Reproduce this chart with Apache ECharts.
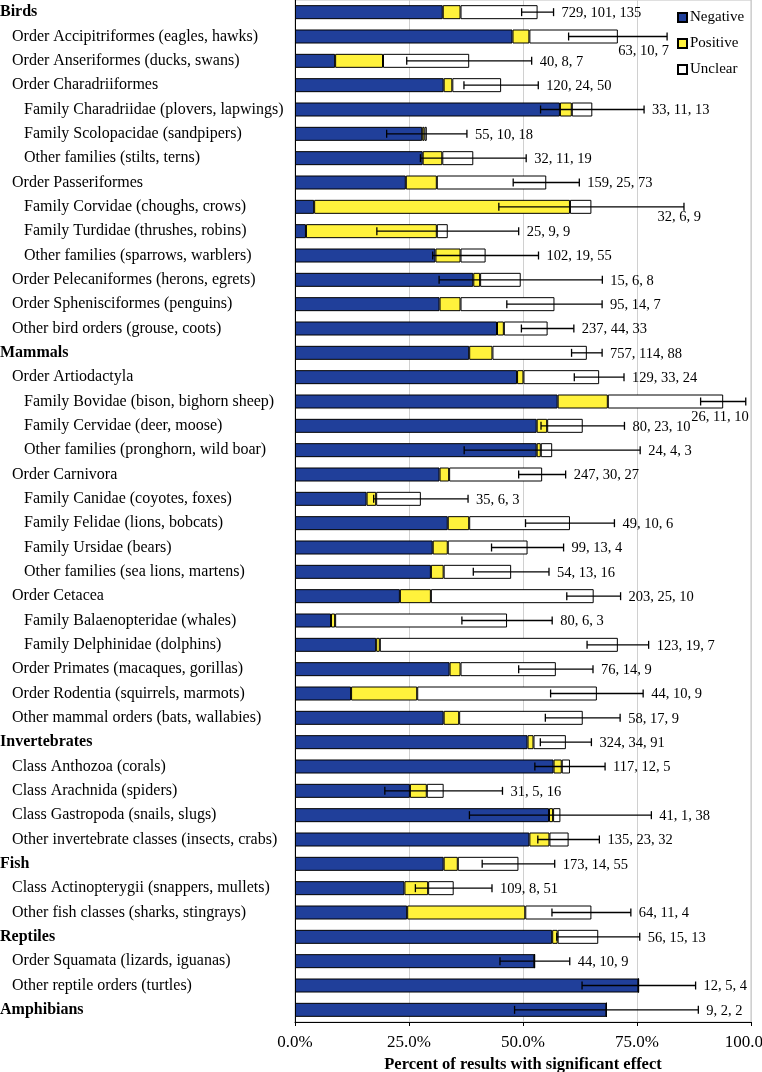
<!DOCTYPE html>
<html>
<head>
<meta charset="utf-8">
<script src="https://cdn.jsdelivr.net/npm/echarts@6/dist/echarts.min.js"></script>
<style>html,body{margin:0;padding:0;background:#fff}#c{width:762px;height:1072px}</style>
</head>
<body>
<div id="c"></div>
<script>
const categories = [
  "Birds","Order Accipitriformes (eagles, hawks)","Order Anseriformes (ducks, swans)","Order Charadriiformes",
  "Family Charadriidae (plovers, lapwings)","Family Scolopacidae (sandpipers)","Other families (stilts, terns)",
  "Order Passeriformes","Family Corvidae (choughs, crows)","Family Turdidae (thrushes, robins)",
  "Other families (sparrows, warblers)","Order Pelecaniformes (herons, egrets)","Order Sphenisciformes (penguins)",
  "Other bird orders (grouse, coots)","Mammals","Order Artiodactyla","Family Bovidae (bison, bighorn sheep)",
  "Family Cervidae (deer, moose)","Other families (pronghorn, wild boar)","Order Carnivora",
  "Family Canidae (coyotes, foxes)","Family Felidae (lions, bobcats)","Family Ursidae (bears)",
  "Other families (sea lions, martens)","Order Cetacea","Family Balaenopteridae (whales)",
  "Family Delphinidae (dolphins)","Order Primates (macaques, gorillas)","Order Rodentia (squirrels, marmots)",
  "Other mammal orders (bats, wallabies)","Invertebrates","Class Anthozoa (corals)","Class Arachnida (spiders)",
  "Class Gastropoda (snails, slugs)","Other invertebrate classes (insects, crabs)","Fish",
  "Class Actinopterygii (snappers, mullets)","Other fish classes (sharks, stingrays)","Reptiles",
  "Order Squamata (lizards, iguanas)","Other reptile orders (turtles)","Amphibians"
];
const levels = [0,1,1,1,2,2,2,1,2,2,2,1,1,1,0,1,2,2,2,1,2,2,2,2,1,2,2,1,1,1,0,1,1,1,1,0,1,1,0,1,1,0];
const negative = [32.4,47.7,8.8,32.6,58.1,27.9,28.0,24.3,4.2,2.4,30.8,39.1,31.7,44.3,38.2,48.7,57.6,53.0,53.0,31.7,15.7,33.5,30.2,29.8,23.0,7.9,17.8,33.9,12.3,32.6,51.0,56.7,25.2,55.7,51.4,32.6,24.0,24.6,56.4,52.5,75.3,68.3];
const positive = [3.9,3.7,10.5,1.9,2.6,0.5,4.3,6.8,56.1,28.7,5.5,1.5,4.6,1.5,5.1,1.4,11.0,2.3,0.9,2.1,2.1,4.7,3.3,2.8,6.8,0.9,0.8,2.4,14.5,3.4,1.3,1.8,3.7,0.9,4.4,3.1,5.2,25.9,1.2,0,0,0];
const unclear = [16.9,19.4,18.9,10.7,4.5,0.5,6.8,24.0,4.7,2.4,5.5,8.9,20.6,9.6,20.7,16.6,25.3,7.8,2.5,20.4,9.8,22.1,17.5,14.8,35.7,37.7,52.2,20.9,39.4,27.1,7.1,1.8,3.7,1.6,4.2,13.3,5.6,14.5,8.9,0.1,0.1,0];
const errorMargin = [3.5,10.8,13.7,8.15,11.35,8.8,11.6,7.25,20.3,15.55,11.6,17.9,10.45,5.75,3.35,5.45,4.95,9.15,19.3,5.15,10.35,9.75,7.9,8.3,5.9,9.9,6.75,8.15,10.15,8.2,5.6,7.7,12.9,19.95,6.75,7.95,8.4,8.65,9.1,7.65,12.45,20.15];
const countLabels = ["729, 101, 135","63, 10, 7","40, 8, 7","120, 24, 50","33, 11, 13","55, 10, 18","32, 11, 19","159, 25, 73","32, 6, 9","25, 9, 9","102, 19, 55","15, 6, 8","95, 14, 7","237, 44, 33","757, 114, 88","129, 33, 24","26, 11, 10","80, 23, 10","24, 4, 3","247, 30, 27","35, 6, 3","49, 10, 6","99, 13, 4","54, 13, 16","203, 25, 10","80, 6, 3","123, 19, 7","76, 14, 9","44, 10, 9","58, 17, 9","324, 34, 91","117, 12, 5","31, 5, 16","41, 1, 38","135, 23, 32","173, 14, 55","109, 8, 51","64, 11, 4","56, 15, 13","44, 10, 9","12, 5, 4","9, 2, 2"];
const xTicks = [0,25,50,75,100];

// label placement tweaks (style, not data): rows whose label sits under the error bar
const labelBelow = {1:[2,15], 8:[17,10], 16:[3,16]};

const FONT = "'Liberation Serif','Times New Roman',serif";
const BLUE = '#203F9A', YELLOW = '#FFF23C';

const errData = categories.map((c,i)=>[negative[i]+positive[i]+unclear[i], i, errorMargin[i]]);

const chart = echarts.init(document.getElementById('c'), null, {renderer:'canvas'});
const barStyle = (color)=>({color:color, borderColor:'#000', borderWidth:1});
chart.setOption({
  animation:false,
  textStyle:{fontFamily:FONT},
  grid:{left:295, right:11, top:0, bottom:50, show:true, borderColor:'#c0c0c0', borderWidth:1,
        containLabel:false, outerBoundsMode:'none'},
  legend:{
    data:['Negative','Positive','Unclear'], orient:'vertical', left:672, top:5,
    itemWidth:9, itemHeight:9, itemGap:11, icon:'rect',
    textStyle:{fontFamily:FONT, fontSize:15, color:'#000', padding:[0,0,0,-2]}
  },
  xAxis:{
    type:'value', min:0, max:100, interval:25,
    axisLine:{show:true, lineStyle:{color:'#000', width:1}},
    axisTick:{show:true, length:4, lineStyle:{color:'#000'}},
    splitLine:{show:true, lineStyle:{color:'#d0d0d0', width:1}},
    axisLabel:{fontFamily:FONT, fontSize:17, color:'#000', margin:12,
      formatter:(v)=> xTicks.indexOf(v)>=0 ? v.toFixed(1)+'%' : ''},
    name:'Percent of results with significant effect', nameLocation:'middle', nameGap:34,
    nameTextStyle:{fontFamily:FONT, fontSize:16.5, fontWeight:'bold', color:'#000'}
  },
  yAxis:{
    type:'category', data:categories, inverse:true,
    axisLine:{show:true, lineStyle:{color:'#000', width:1}},
    axisTick:{show:false},
    axisLabel:{
      align:'left', margin:295, interval:0, color:'#000',
      formatter:(v)=>{const idx = categories.indexOf(v); return '{l'+levels[idx]+'|'+v+'}';},
      rich:{
        l0:{fontFamily:FONT, fontSize:16, fontWeight:'bold', color:'#000', padding:[0,0,0,0]},
        l1:{fontFamily:FONT, fontSize:16, color:'#000', padding:[0,0,0,12]},
        l2:{fontFamily:FONT, fontSize:16, color:'#000', padding:[0,0,0,24]}
      }
    }
  },
  series:[
    {name:'Negative', type:'bar', stack:'s', barWidth:14, data:negative, itemStyle:barStyle(BLUE)},
    {name:'Positive', type:'bar', stack:'s', barWidth:14, data:positive, itemStyle:barStyle(YELLOW)},
    {name:'Unclear', type:'bar', stack:'s', barWidth:14, data:unclear, itemStyle:barStyle('#fff')},
    {
      type:'custom', data:errData, z:10,
      encode:{x:0, y:1},
      renderItem:(params, api)=>{
        const total = api.value(0), idx = api.value(1), e = api.value(2);
        const lab = countLabels[idx];
        const p0 = api.coord([total-e, idx]);
        const p1 = api.coord([total+e, idx]);
        const y = p0[1], cap = 4;
        const ls = {stroke:'#000', lineWidth:1.3};
        const below = labelBelow[idx];
        const tstyle = {text:lab, fontFamily:FONT, fontSize:14.5, fill:'#000', verticalAlign:'middle'};
        const text = below ?
          {type:'text', x:p1[0]+below[0], y:y+below[1], style:Object.assign({align:'right'}, tstyle)} :
          {type:'text', x:p1[0]+8, y:y+1, style:Object.assign({align:'left'}, tstyle)};
        return {type:'group', children:[
          {type:'line', shape:{x1:p0[0], y1:y, x2:p1[0], y2:y}, style:ls},
          {type:'line', shape:{x1:p0[0], y1:y-cap, x2:p0[0], y2:y+cap}, style:ls},
          {type:'line', shape:{x1:p1[0], y1:y-cap, x2:p1[0], y2:y+cap}, style:ls},
          text
        ]};
      }
    }
  ]
});
</script>
</body>
</html>
